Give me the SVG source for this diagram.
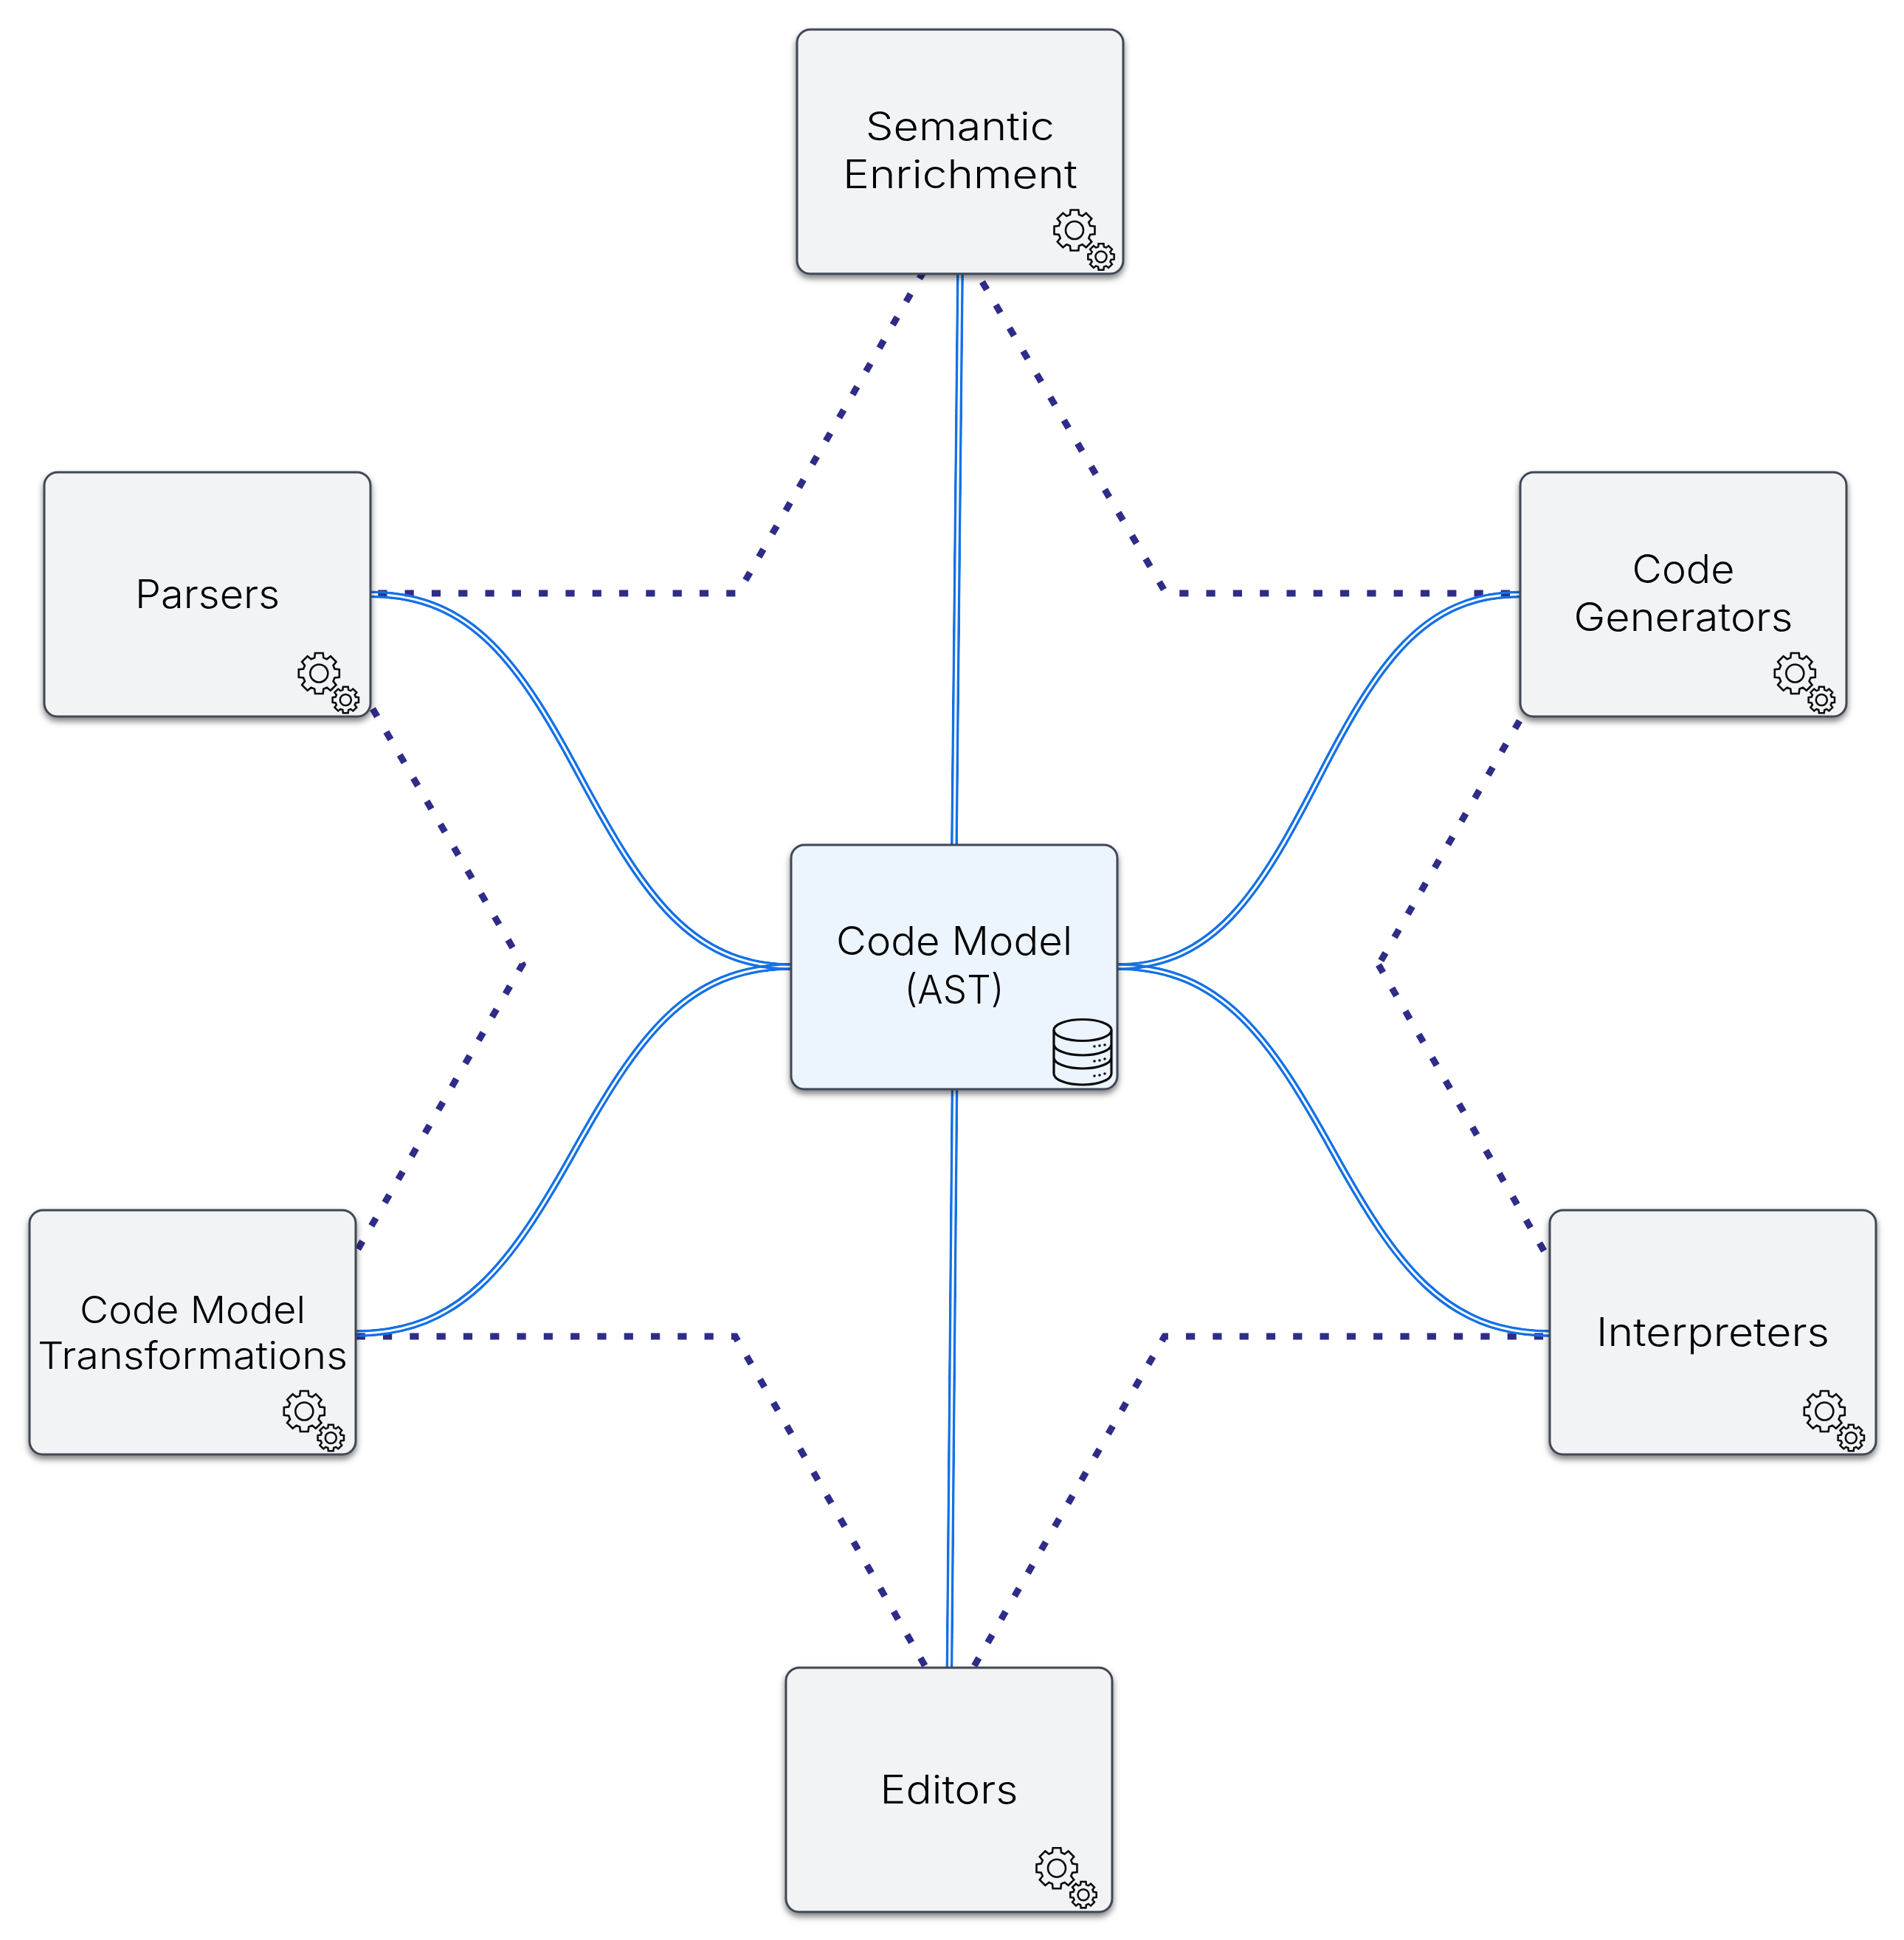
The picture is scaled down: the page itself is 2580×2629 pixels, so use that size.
<svg xmlns="http://www.w3.org/2000/svg" width="2580" height="2629" viewBox="0 0 2580 2629">
<style>
.node{fill:#f2f3f5;stroke:#3f4654;stroke-width:3;filter:url(#sh)}
.core{fill:#ecf4fe}
.t{font-family:"Inter","Liberation Sans",sans-serif;font-size:53px;fill:#000;text-anchor:middle;font-weight:350}
.dot{fill:none;stroke:#2f2c88;stroke-width:9;stroke-dasharray:12.2 24.1}
.blue{fill:none;stroke:#1471e6;stroke-width:10}
.ic{fill:none;stroke:#0a0a0a;stroke-width:2.6;stroke-linejoin:miter}
.mo{fill:none;stroke:#fff;stroke-width:10}
.mi{fill:none;stroke:#000;stroke-width:3}
</style>
<defs>
<filter id="sh" x="-10%" y="-10%" width="120%" height="125%"><feDropShadow dx="0" dy="5" stdDeviation="4" flood-color="#000" flood-opacity="0.5"/></filter>
<path id="g" d="M-6.06,-21.15L-5.34,-27.49L5.34,-27.49L6.06,-21.15L10.67,-19.24L15.66,-23.21L23.21,-15.66L19.24,-10.67L21.15,-6.06L27.49,-5.34L27.49,5.34L21.15,6.06L19.24,10.67L23.21,15.66L15.66,23.21L10.67,19.24L6.06,21.15L5.34,27.49L-5.34,27.49L-6.06,21.15L-10.67,19.24L-15.66,23.21L-23.21,15.66L-19.24,10.67L-21.15,6.06L-27.49,5.34L-27.49,-5.34L-21.15,-6.06L-19.24,-10.67L-23.21,-15.66L-15.66,-23.21L-10.67,-19.24Z"/>
<g id="gears">
<g class="ic" transform="translate(-66,-59)"><use href="#g"/><circle r="12"/></g>
<g class="ic" transform="translate(-30,-23) scale(0.643)" style="stroke-width:3.9"><use href="#g"/><circle r="11.7"/></g>
</g>
<path id="c1" d="M502,805.5C640,805.5 705,900 788,1056C870,1208 935,1310 1072,1310"/>
<path id="c2" d="M2060,805.5C1928,805.5 1866,900 1786,1056C1707,1210 1645,1310 1514,1310"/>
<path id="c3" d="M482,1807C625,1807 692,1714 778,1560C863,1408 930,1310 1072,1310"/>
<path id="c4" d="M2100,1807C1958,1807 1891,1714 1806,1560C1722,1408 1655,1310 1514,1310"/>
<path id="c5" d="M1301,371L1293,1145"/>
<path id="c6" d="M1293.5,1476L1286.5,2260"/>
<mask id="m1" maskUnits="userSpaceOnUse" x="0" y="0" width="2580" height="2629"><use href="#c1" class="mo"/><use href="#c1" class="mi"/></mask>
<mask id="m2" maskUnits="userSpaceOnUse" x="0" y="0" width="2580" height="2629"><use href="#c2" class="mo"/><use href="#c2" class="mi"/></mask>
<mask id="m3" maskUnits="userSpaceOnUse" x="0" y="0" width="2580" height="2629"><use href="#c3" class="mo"/><use href="#c3" class="mi"/></mask>
<mask id="m4" maskUnits="userSpaceOnUse" x="0" y="0" width="2580" height="2629"><use href="#c4" class="mo"/><use href="#c4" class="mi"/></mask>
<mask id="m5" maskUnits="userSpaceOnUse" x="0" y="0" width="2580" height="2629"><use href="#c5" class="mo"/><use href="#c5" class="mi"/></mask>
<mask id="m6" maskUnits="userSpaceOnUse" x="0" y="0" width="2580" height="2629"><use href="#c6" class="mo"/><use href="#c6" class="mi"/></mask>
</defs>
<rect width="2580" height="2629" fill="#fff"/>
<g id="connectors">
<path class="dot" d="M476,804H1000L1256,360"/>
<path class="dot" d="M1331,382L1580,804H2070"/>
<path class="dot" d="M2059,976.8L1868,1307.5"/>
<path class="dot" d="M1868,1307.5L2110,1726"/>
<path class="dot" d="M1320.25,2257.4L1578,1811H2110"/>
<path class="dot" d="M482.7,1811H996.3L1256,2262"/>
<path class="dot" d="M505,960.4L708,1307L482,1698"/>
<use href="#c1" class="blue" mask="url(#m1)"/>
<use href="#c2" class="blue" mask="url(#m2)"/>
<use href="#c3" class="blue" mask="url(#m3)"/>
<use href="#c4" class="blue" mask="url(#m4)"/>
<use href="#c5" class="blue" mask="url(#m5)"/>
<use href="#c6" class="blue" mask="url(#m6)"/>
</g>
<g id="semantic"><rect class="node" x="1080" y="40" width="442" height="331" rx="18"/><text class="t" x="1301" y="190" textLength="256" lengthAdjust="spacingAndGlyphs">Semantic</text><text class="t" x="1301" y="255" textLength="318" lengthAdjust="spacingAndGlyphs">Enrichment</text><use href="#gears" transform="translate(1522,371)"/></g>
<g id="parsers"><rect class="node" x="60" y="640" width="442" height="331" rx="18"/><text class="t" x="281" y="824" textLength="196" lengthAdjust="spacingAndGlyphs">Parsers</text><use href="#gears" transform="translate(498.3,971.5)"/></g>
<g id="generators"><rect class="node" x="2060" y="640" width="442" height="331" rx="18"/><text class="t" x="2281" y="790" textLength="139" lengthAdjust="spacingAndGlyphs">Code</text><text class="t" x="2281" y="855" textLength="297" lengthAdjust="spacingAndGlyphs">Generators</text><use href="#gears" transform="translate(2498.3,971.5)"/></g>
<g id="code-model"><rect class="node core" x="1072" y="1145" width="442" height="331" rx="18"/><text class="t" x="1293" y="1294" textLength="320" lengthAdjust="spacingAndGlyphs">Code Model</text><text class="t" x="1293" y="1360" textLength="135" lengthAdjust="spacingAndGlyphs">(AST)</text>
<g class="ic" style="stroke-width:3.2"><ellipse cx="1467" cy="1396" rx="39" ry="14.5"/><path d="M1428,1396V1455A39,15 0 0 0 1506,1455V1396M1428,1415A39,15 0 0 0 1506,1415M1428,1433A39,15 0 0 0 1506,1433"/></g>
<g fill="#0a0a0a"><circle cx="1483" cy="1418" r="1.8"/><circle cx="1490" cy="1417" r="1.8"/><circle cx="1497" cy="1416" r="1.8"/><circle cx="1483" cy="1438" r="1.8"/><circle cx="1490" cy="1437" r="1.8"/><circle cx="1497" cy="1435" r="1.8"/><circle cx="1483" cy="1458" r="1.8"/><circle cx="1490" cy="1457" r="1.8"/><circle cx="1497" cy="1455" r="1.8"/></g></g>
<g id="transformations"><rect class="node" x="40" y="1640" width="442" height="331" rx="18"/><text class="t" x="261" y="1793" textLength="306" lengthAdjust="spacingAndGlyphs" style="font-size:51px">Code Model</text><text class="t" x="261" y="1855" textLength="420" lengthAdjust="spacingAndGlyphs" style="font-size:51px">Transformations</text><use href="#gears" transform="translate(478.3,1971.5)"/></g>
<g id="interpreters"><rect class="node" x="2100" y="1640" width="442" height="331" rx="18"/><text class="t" x="2321" y="1824" textLength="316" lengthAdjust="spacingAndGlyphs">Interpreters</text><use href="#gears" transform="translate(2538.3,1971.5)"/></g>
<g id="editors"><rect class="node" x="1065" y="2260" width="442" height="331" rx="18"/><text class="t" x="1286" y="2444" textLength="187" lengthAdjust="spacingAndGlyphs">Editors</text><use href="#gears" transform="translate(1498,2590.7)"/></g>
</svg>
